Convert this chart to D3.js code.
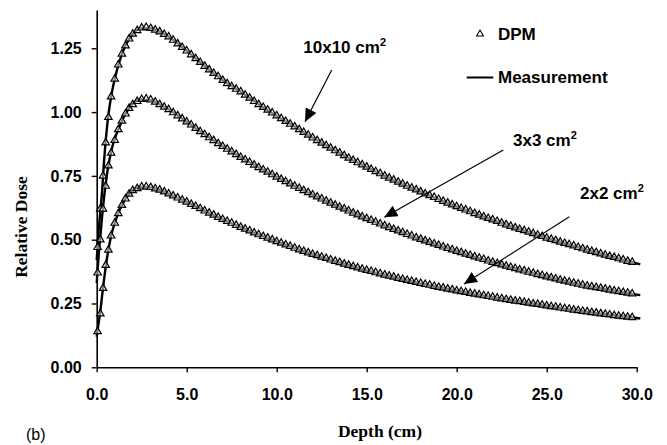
<!DOCTYPE html>
<html>
<head>
<meta charset="utf-8">
<script src="https://cdn.jsdelivr.net/npm/d3@7"></script>
<style>
  body { margin: 0; background: #fff; }
  svg { display: block; }
</style>
</head>
<body>
<script>
// depth dose curves

// measurement (solid line), knots
var measDepth = [0,0.1,0.2,0.3,0.4,0.6,0.8,1.0,1.25,1.5,1.75,2.0,2.5,3.0,3.5,4,
  5,6,7,8,9,10,11,12,13,14,15,16,17,18,19,20,21,22,23,24,25,26,27,28,29,30,30.2];

var meas10 = [0.42,0.53,0.61,0.69,0.80,0.96,1.06,1.13,1.195,1.245,1.28,1.305,1.33,1.328,1.315,1.295,
  1.24,1.18,1.125,1.08,1.03,0.985,0.943,0.899,0.859,0.82,0.785,0.75,0.718,0.688,0.658,0.63,0.603,0.578,0.553,0.53,0.507,0.486,0.465,0.445,0.426,0.407,0.403];
var meas3 = [0.33,0.43,0.51,0.59,0.66,0.77,0.845,0.895,0.94,0.98,1.01,1.032,1.05,1.047,1.03,1.01,
  0.962,0.912,0.866,0.823,0.783,0.746,0.71,0.676,0.644,0.613,0.583,0.555,0.528,0.502,0.478,0.455,0.433,0.412,0.392,0.373,0.355,0.338,0.322,0.31,0.297,0.285,0.283];
var meas2 = [0.12,0.17,0.22,0.28,0.34,0.44,0.515,0.565,0.612,0.648,0.675,0.693,0.707,0.705,0.695,0.68,
  0.648,0.613,0.58,0.549,0.52,0.493,0.467,0.443,0.421,0.4,0.38,0.362,0.345,0.329,0.314,0.30,0.287,0.275,0.263,0.252,0.241,0.23,0.22,0.21,0.201,0.193,0.191];

// DPM (triangles)
var dpmDepth = [0.05,0.2,0.35,0.5,0.65,0.8,1.0,1.2,1.4,1.6,1.8,
  2.0,2.25,2.5,2.75, 3.0,3.25,3.5,3.75, 4.0,4.25,4.5,4.75, 5.0,5.25,5.5,5.75,
  6.0,6.25,6.5,6.75, 7.0,7.25,7.5,7.75, 8.0,8.25,8.5,8.75, 9.0,9.25,9.5,9.75,
  10.0,10.25,10.5,10.75, 11.0,11.25,11.5,11.75, 12.0,12.25,12.5,12.75, 13.0,13.25,13.5,13.75,
  14.0,14.25,14.5,14.75, 15.0,15.25,15.5,15.75, 16.0,16.25,16.5,16.75, 17.0,17.25,17.5,17.75,
  18.0,18.25,18.5,18.75, 19.0,19.25,19.5,19.75, 20.0,20.25,20.5,20.75, 21.0,21.25,21.5,21.75,
  22.0,22.25,22.5,22.75, 23.0,23.25,23.5,23.75, 24.0,24.25,24.5,24.75, 25.0,25.25,25.5,25.75,
  26.0,26.25,26.5,26.75, 27.0,27.25,27.5,27.75, 28.0,28.25,28.5,28.75, 29.0,29.25,29.5,29.75];

var dpm10 = [0.47,0.62,0.75,0.88,0.98,1.06,1.13,1.185,1.228,1.26,1.287,
  1.306,1.32,1.33,1.332, 1.328,1.322,1.315,1.305, 1.295,1.282,1.268,1.254, 1.24,1.225,1.21,1.195,
  1.18,1.166,1.152,1.139, 1.125,1.112,1.1,1.09, 1.08,1.067,1.055,1.042, 1.03,1.019,1.008,0.997,
  0.986,0.975,0.964,0.953, 0.943,0.932,0.921,0.91, 0.899,0.889,0.879,0.869, 0.859,0.849,0.84,0.83,
  0.82,0.811,0.802,0.794, 0.785,0.776,0.767,0.759, 0.75,0.742,0.734,0.726, 0.718,0.71,0.703,0.696,
  0.688,0.68,0.673,0.666, 0.658,0.651,0.644,0.637, 0.63,0.623,0.617,0.61, 0.603,0.597,0.59,0.584,
  0.578,0.572,0.565,0.559, 0.553,0.547,0.541,0.536, 0.53,0.524,0.518,0.513, 0.507,0.502,0.497,0.491,
  0.486,0.481,0.476,0.47, 0.465,0.46,0.455,0.45, 0.445,0.44,0.435,0.431, 0.426,0.421,0.416,0.412];

var dpm3 = [0.37,0.5,0.62,0.71,0.79,0.84,0.89,0.932,0.965,0.993,1.015,
  1.03,1.042,1.05,1.052, 1.048,1.04,1.03,1.02, 1.01,0.998,0.986,0.974, 0.962,0.95,0.937,0.924,
  0.912,0.9,0.889,0.877, 0.866,0.855,0.845,0.834, 0.823,0.813,0.803,0.793, 0.783,0.774,0.765,0.755,
  0.746,0.737,0.728,0.719, 0.71,0.702,0.693,0.685, 0.676,0.668,0.66,0.652, 0.644,0.636,0.628,0.621,
  0.613,0.605,0.598,0.59, 0.583,0.576,0.569,0.562, 0.555,0.548,0.541,0.535, 0.528,0.521,0.515,0.508,
  0.502,0.496,0.49,0.484, 0.478,0.472,0.466,0.461, 0.455,0.45,0.444,0.439, 0.433,0.428,0.423,0.417,
  0.412,0.407,0.402,0.397, 0.392,0.387,0.382,0.378, 0.373,0.369,0.364,0.36, 0.355,0.351,0.347,0.342,
  0.338,0.334,0.33,0.326, 0.322,0.319,0.316,0.313, 0.31,0.307,0.303,0.3, 0.297,0.294,0.291,0.288];

var dpm2 = [0.14,0.21,0.31,0.40,0.46,0.515,0.565,0.603,0.635,0.66,0.679,
  0.693,0.701,0.707,0.707, 0.705,0.7,0.695,0.688, 0.68,0.672,0.664,0.656, 0.648,0.639,0.631,0.622,
  0.613,0.605,0.597,0.588, 0.58,0.572,0.565,0.557, 0.549,0.542,0.535,0.527, 0.52,0.513,0.507,0.5,
  0.493,0.487,0.48,0.474, 0.467,0.461,0.455,0.449, 0.443,0.438,0.432,0.427, 0.421,0.416,0.411,0.405,
  0.4,0.395,0.39,0.385, 0.38,0.376,0.371,0.367, 0.362,0.358,0.354,0.349, 0.345,0.341,0.337,0.333,
  0.329,0.325,0.322,0.318, 0.314,0.311,0.307,0.304, 0.3,0.297,0.294,0.29, 0.287,0.284,0.281,0.278,
  0.275,0.272,0.269,0.266, 0.263,0.26,0.258,0.255, 0.252,0.249,0.247,0.244, 0.241,0.238,0.236,0.233,
  0.23,0.228,0.225,0.223, 0.22,0.218,0.215,0.213, 0.21,0.208,0.206,0.203, 0.201,0.199,0.197,0.195];

var xTicks = [0, 5, 10, 15, 20, 25, 30];
var yTicks = [0, 0.25, 0.5, 0.75, 1.0, 1.25];

var fieldLabels = ['10x10 cm', '3x3 cm', '2x2 cm'];

var W = 667, H = 445;
var sans = "'Liberation Sans', Arial, sans-serif";
var serif = "'Liberation Serif', 'Times New Roman', serif";

var x = d3.scaleLinear().domain([0, 30]).range([96.7, 636.7]);
var y = d3.scaleLinear().domain([0, 1.4]).range([367.3, 10]);

var svg = d3.select('body').append('svg')
    .attr('width', W)
    .attr('height', H);

svg.append('rect').attr('width', W).attr('height', H).attr('fill', '#fff');

// axes
var gx = svg.append('g')
  .attr('transform', 'translate(0,' + y(0) + ')')
  .call(d3.axisBottom(x).tickValues(xTicks).tickFormat(d3.format('.1f'))
    .tickSize(5).tickSizeOuter(0).tickPadding(16));

var gy = svg.append('g')
  .attr('transform', 'translate(' + x(0) + ',0)')
  .call(d3.axisLeft(y).tickValues(yTicks).tickFormat(d3.format('.2f'))
    .tickSize(5).tickSizeOuter(0).tickPadding(10));

[gx, gy].forEach(function (g) {
  g.select('.domain').attr('stroke', '#000').attr('stroke-width', 1.6);
  g.selectAll('.tick line').attr('stroke', '#000').attr('stroke-width', 1.4);
  g.selectAll('.tick text')
    .attr('fill', '#000')
    .style('font-family', sans)
    .style('font-size', '16px')
    .style('font-weight', 'bold');
});

// axis titles
svg.append('text')
  .attr('x', 380).attr('y', 437)
  .attr('text-anchor', 'middle')
  .style('font-family', serif).style('font-size', '17.5px').style('font-weight', 'bold')
  .text('Depth (cm)');

svg.append('text')
  .attr('transform', 'translate(27,227) rotate(-90)')
  .attr('text-anchor', 'middle')
  .style('font-family', serif).style('font-size', '17.5px').style('font-weight', 'bold')
  .text('Relative Dose');

svg.append('text')
  .attr('x', 26).attr('y', 440)
  .style('font-family', sans).style('font-size', '16px')
  .text('(b)');

// measurement lines
var line = d3.line()
  .x(function (d) { return x(d[0]); })
  .y(function (d) { return y(d[1]); })
  .curve(d3.curveMonotoneX);

[meas10, meas3, meas2].forEach(function (vals) {
  svg.append('path')
    .datum(measDepth.map(function (d, i) { return [d, vals[i]]; }))
    .attr('d', line)
    .attr('fill', 'none')
    .attr('stroke', '#000')
    .attr('stroke-width', 2.4);
});

// DPM triangles
var tri = d3.symbol().type(d3.symbolTriangle).size(24);

[dpm10, dpm3, dpm2].forEach(function (vals) {
  svg.append('g').selectAll('path')
    .data(dpmDepth.map(function (d, i) { return [d, vals[i]]; }))
    .enter().append('path')
      .attr('d', tri)
      .attr('transform', function (d) { return 'translate(' + x(d[0]) + ',' + y(d[1]) + ')'; })
      .attr('fill', '#fff')
      .attr('fill-opacity', 0.5)
      .attr('stroke', '#000')
      .attr('stroke-width', 1.2);
});

// legend
svg.append('path')
  .attr('d', d3.symbol().type(d3.symbolTriangle).size(20)())
  .attr('transform', 'translate(480,34)')
  .attr('fill', '#fff').attr('stroke', '#000').attr('stroke-width', 1.1);
svg.append('text')
  .attr('x', 498).attr('y', 39.5)
  .style('font-family', sans).style('font-size', '17px').style('font-weight', 'bold')
  .text('DPM');
svg.append('line')
  .attr('x1', 466.7).attr('x2', 493.3).attr('y1', 77.5).attr('y2', 77.5)
  .attr('stroke', '#000').attr('stroke-width', 2);
svg.append('text')
  .attr('x', 498).attr('y', 83.3)
  .style('font-family', sans).style('font-size', '17px').style('font-weight', 'bold')
  .text('Measurement');

// field size annotations with arrows
svg.append('defs').append('marker')
  .attr('id', 'head')
  .attr('markerUnits', 'userSpaceOnUse')
  .attr('markerWidth', 14).attr('markerHeight', 12)
  .attr('refX', 13).attr('refY', 6)
  .attr('orient', 'auto')
  .append('path')
    .attr('d', 'M0,0L13,6L0,12Z')
    .attr('fill', '#000');

var notes = [
  {tx: 303.3, ty: 53, x1: 331.7, y1: 70, x2: 305, y2: 121.7},
  {tx: 513, ty: 146, x1: 503.3, y1: 150, x2: 384.3, y2: 217.3},
  {tx: 580, ty: 199.3, x1: 569.3, y1: 216.7, x2: 464, y2: 284}
];

notes.forEach(function (n, i) {
  var t = svg.append('text')
    .attr('x', n.tx).attr('y', n.ty)
    .style('font-family', sans).style('font-size', '17px').style('font-weight', 'bold');
  t.append('tspan').text(fieldLabels[i]);
  t.append('tspan').attr('dy', -7).style('font-size', '11px').text('2');
  svg.append('line')
    .attr('x1', n.x1).attr('y1', n.y1).attr('x2', n.x2).attr('y2', n.y2)
    .attr('stroke', '#000').attr('stroke-width', 1.2)
    .attr('marker-end', 'url(#head)');
});
</script>
</body>
</html>
